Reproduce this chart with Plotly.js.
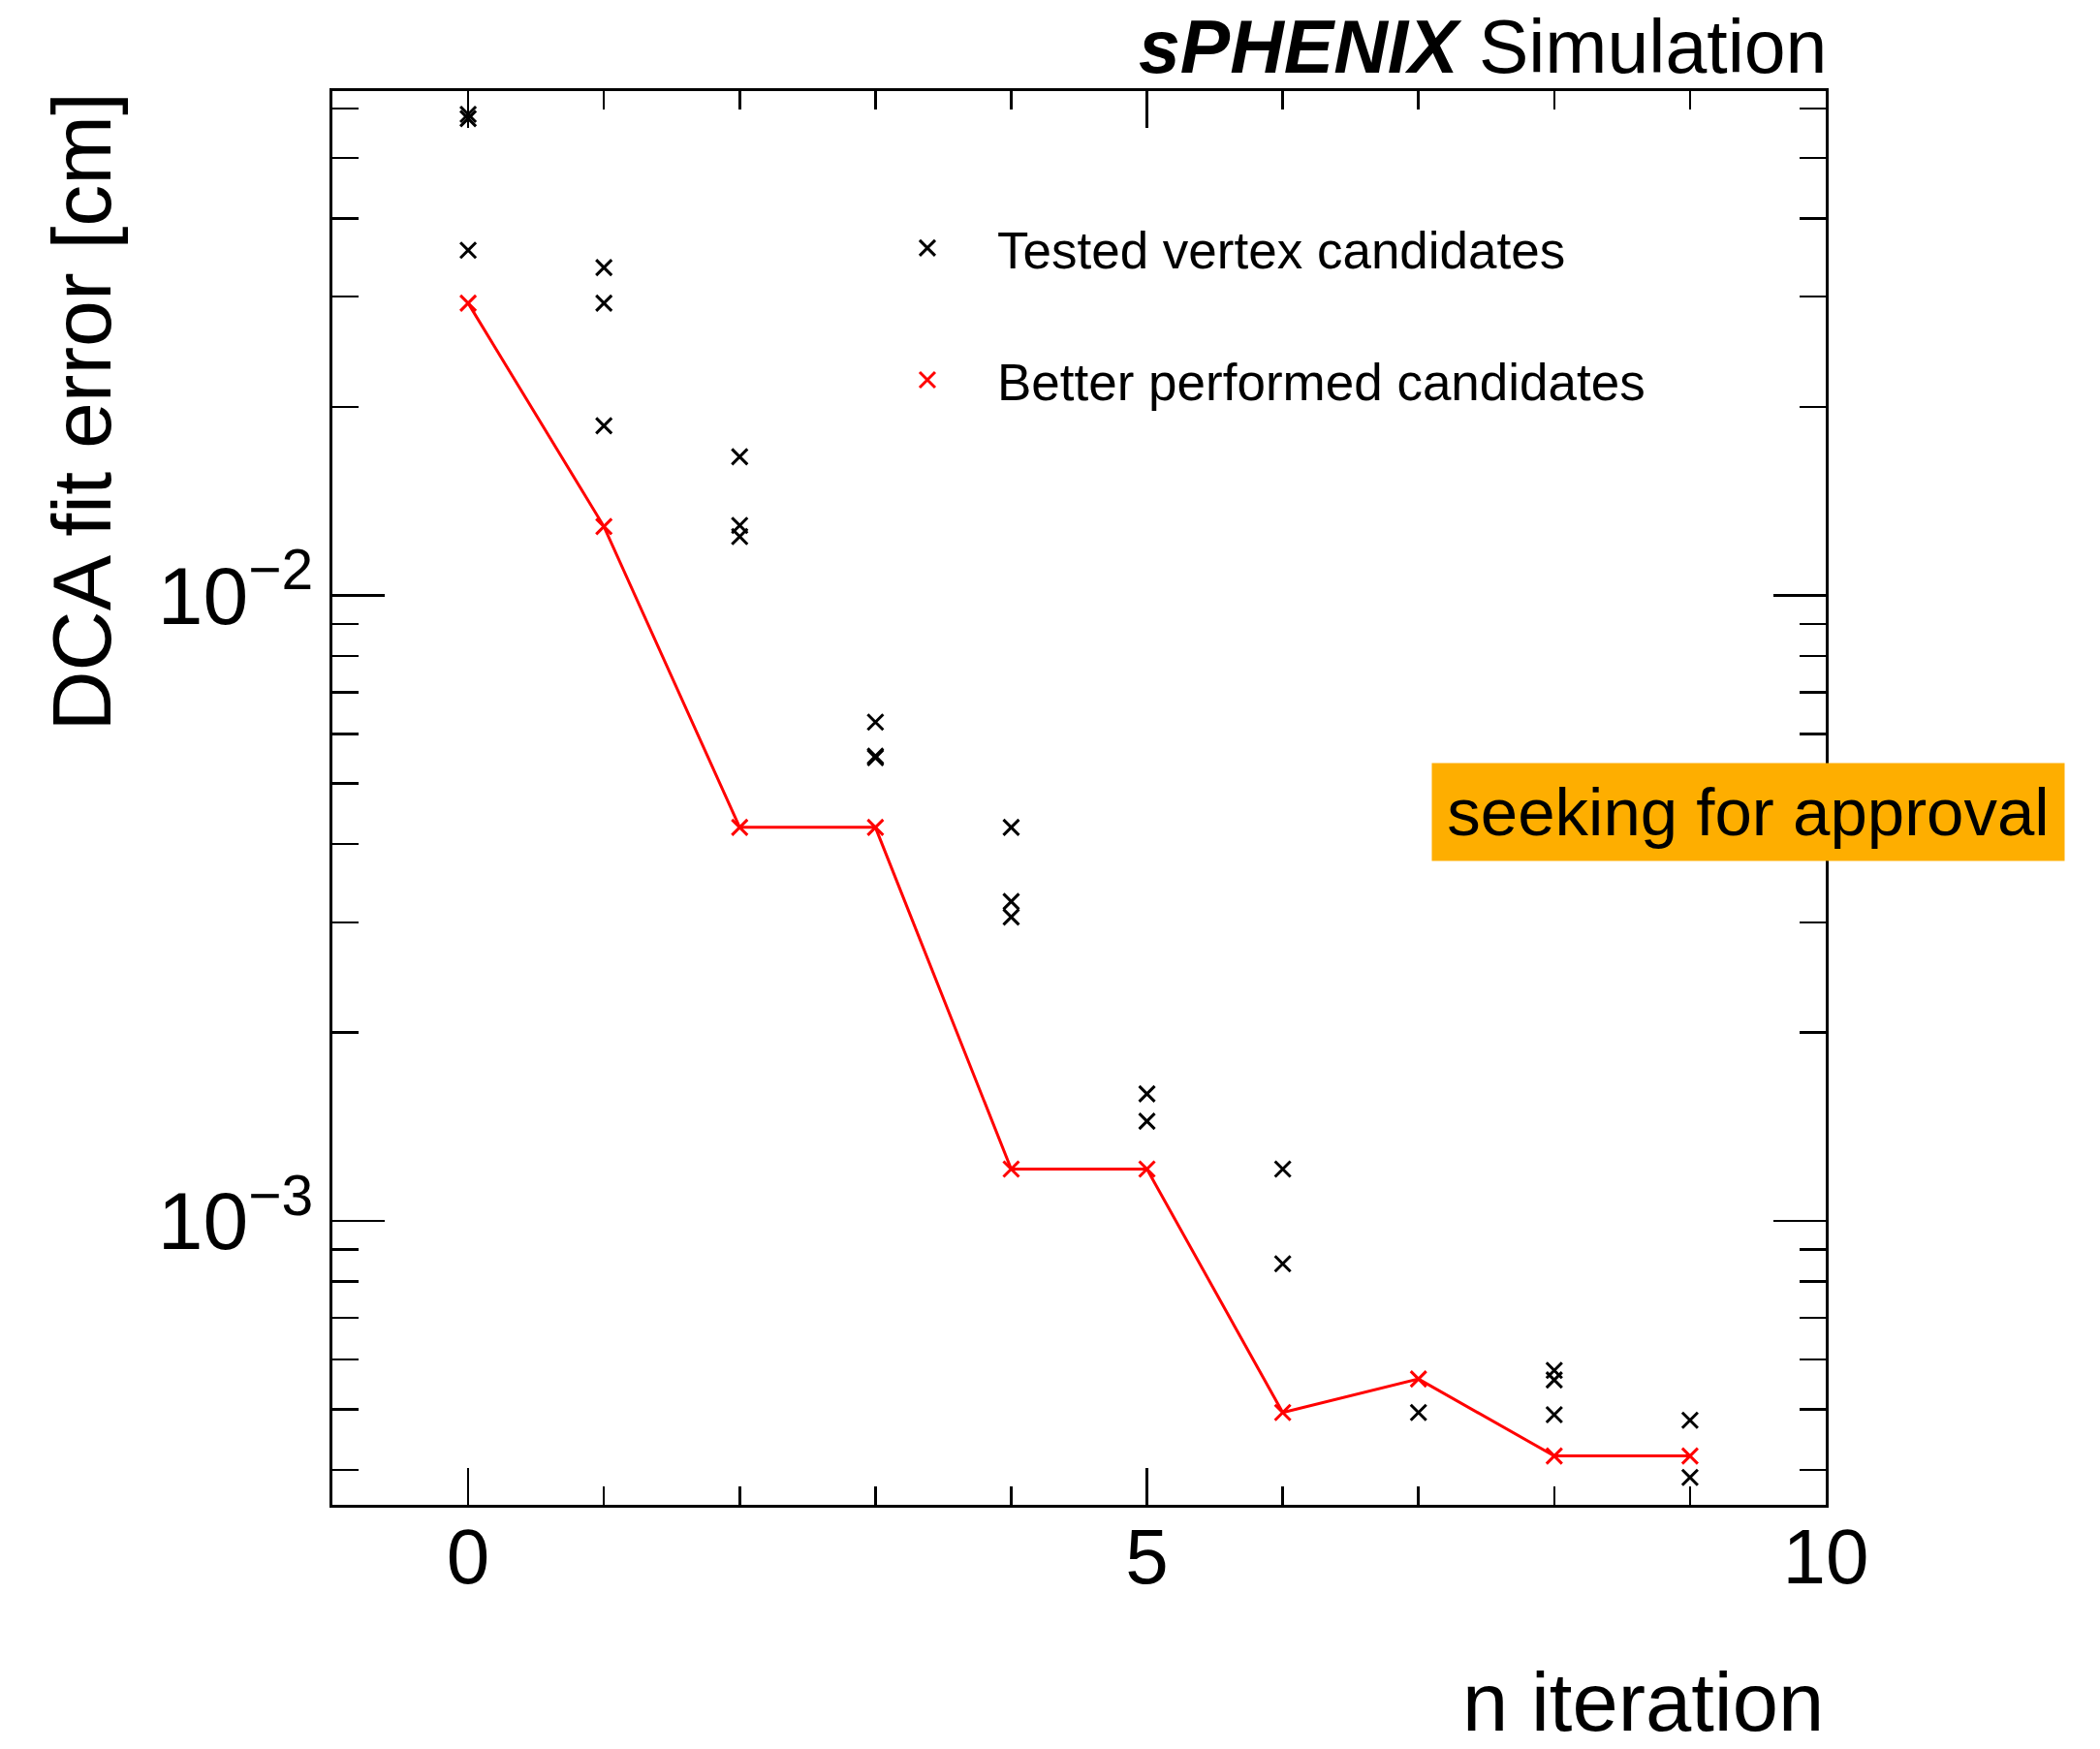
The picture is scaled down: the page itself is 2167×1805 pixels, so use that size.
<!DOCTYPE html>
<html>
<head>
<meta charset="utf-8">
<script src="https://cdn.plot.ly/plotly-3.0.1.min.js"></script>
<style>html,body{margin:0;padding:0;background:#fff;}#chart{width:2167px;height:1805px;}</style>
</head>
<body>
<div id="chart"></div>
<script>
// ---- data ----
const iterations = [0, 1, 2, 3, 4, 5, 6, 7, 8, 9];
const betterY = [0.0293, 0.01288, 0.004256, 0.004256, 0.00121, 0.00121, 0.000494, 0.000559, 0.000421, 0.000421];

const testedX = [0, 0, 0,
                 1, 1, 1,
                 2, 2, 2,
                 3, 3, 3,
                 4, 4, 4,
                 5, 5,
                 6, 6,
                 7,
                 8, 8, 8,
                 9, 9];
const testedY = [0.0587, 0.0578, 0.0356,
                 0.0334, 0.0293, 0.01866,
                 0.01665, 0.01293, 0.01241,
                 0.00627, 0.00553, 0.00550,
                 0.004256, 0.00324, 0.00306,
                 0.001596, 0.001443,
                 0.00121, 0.000854,
                 0.000494,
                 0.000577, 0.000557, 0.00049,
                 0.00048, 0.000389];

const xMajorTicks = [0, 5, 10];
const xMinorTicks = [1, 2, 3, 4, 6, 7, 8, 9];
const yMajorTicks = [0.001, 0.01];
const yMajorText = ['10<sup>\u22123</sup>', '10<sup>\u22122</sup>'];
const yMinorTicks = [0.0004, 0.0005, 0.0006, 0.0007, 0.0008, 0.0009,
                     0.002, 0.003, 0.004, 0.005, 0.006, 0.007, 0.008, 0.009,
                     0.02, 0.03, 0.04, 0.05, 0.06];

const legendTested = 'Tested vertex candidates';
const legendBetter = 'Better performed candidates';
const xTitle = 'n iteration';
const yTitle = 'DCA fit error [cm]';
const headerText = '<b><i>sPHENIX</i></b> Simulation';
const stampText = 'seeking for approval';

const FONT = 'Liberation Sans, Arial, Helvetica, sans-serif';

const traces = [
  {
    x: testedX, y: testedY, type: 'scatter', mode: 'markers',
    name: legendTested, legend: 'legend',
    marker: {symbol: 'x-thin', size: 16, color: '#000', line: {color: '#000', width: 3}}
  },
  {
    x: iterations, y: betterY, type: 'scatter', mode: 'lines',
    showlegend: false, line: {color: '#ff0000', width: 3}
  },
  {
    x: iterations, y: betterY, type: 'scatter', mode: 'markers',
    name: legendBetter, legend: 'legend2',
    marker: {symbol: 'x-thin', size: 16, color: '#ff0000', line: {color: '#ff0000', width: 3}}
  }
];

const legendCommon = {
  xanchor: 'left', yanchor: 'middle', bgcolor: 'rgba(0,0,0,0)', borderwidth: 0,
  font: {family: FONT, size: 53, color: '#000'}, itemwidth: 134, itemsizing: 'trace'
};

const layout = {
  width: 2167, height: 1805,
  margin: {l: 343, r: 283, t: 94, b: 252, pad: 0},
  paper_bgcolor: '#fff', plot_bgcolor: '#fff',
  font: {family: FONT, color: '#000'},
  showlegend: true,
  legend: Object.assign({x: 0.3517, y: 0.889}, legendCommon),
  legend2: Object.assign({x: 0.3517, y: 0.7957}, legendCommon),
  xaxis: {
    range: [-1, 10], showgrid: false, zeroline: false,
    showline: true, linecolor: '#000', linewidth: 3, mirror: 'ticks',
    ticks: 'inside', tickmode: 'array', tickvals: xMajorTicks,
    ticklen: 38, tickwidth: 2.5, tickcolor: '#000',
    tickfont: {family: FONT, size: 80, color: '#000'}, ticklabelstandoff: -18,
    minor: {tickmode: 'array', tickvals: xMinorTicks, ticks: 'inside', ticklen: 19, tickwidth: 2.5, tickcolor: '#000', showgrid: false}
  },
  yaxis: {
    type: 'log', range: [-3.4538, -1.1942], showgrid: false, zeroline: false,
    showline: true, linecolor: '#000', linewidth: 3, mirror: 'ticks',
    ticks: 'inside', tickmode: 'array', tickvals: yMajorTicks, ticktext: yMajorText,
    ticklen: 54, tickwidth: 2.5, tickcolor: '#000',
    tickfont: {family: FONT, size: 84, color: '#000'}, ticklabelstandoff: 0,
    minor: {tickmode: 'array', tickvals: yMinorTicks, ticks: 'inside', ticklen: 27, tickwidth: 2.5, tickcolor: '#000', showgrid: false}
  },
  annotations: [
    {text: headerText, xref: 'paper', yref: 'paper', x: 1.002, y: 1.0315,
     xanchor: 'right', yanchor: 'middle', showarrow: false,
     font: {family: FONT, size: 77, color: '#000'}},
    {text: xTitle, xref: 'paper', yref: 'paper', x: 1.0, y: -0.1395,
     xanchor: 'right', yanchor: 'middle', showarrow: false,
     font: {family: FONT, size: 85, color: '#000'}},
    {text: yTitle, xref: 'paper', yref: 'paper', x: -0.1687, y: 1.0,
     xanchor: 'center', yanchor: 'top', textangle: -90, showarrow: false,
     font: {family: FONT, size: 86, color: '#000'}},
    {text: stampText, xref: 'paper', yref: 'paper', x: 0.948, y: 0.490,
     xanchor: 'center', yanchor: 'middle', showarrow: false,
     width: 652, height: 100, borderpad: 0, bgcolor: '#feae00',
     font: {family: FONT, size: 69, color: '#000'}}
  ]
};

Plotly.newPlot('chart', traces, layout, {displayModeBar: false, staticPlot: true});
</script>
</body>
</html>
